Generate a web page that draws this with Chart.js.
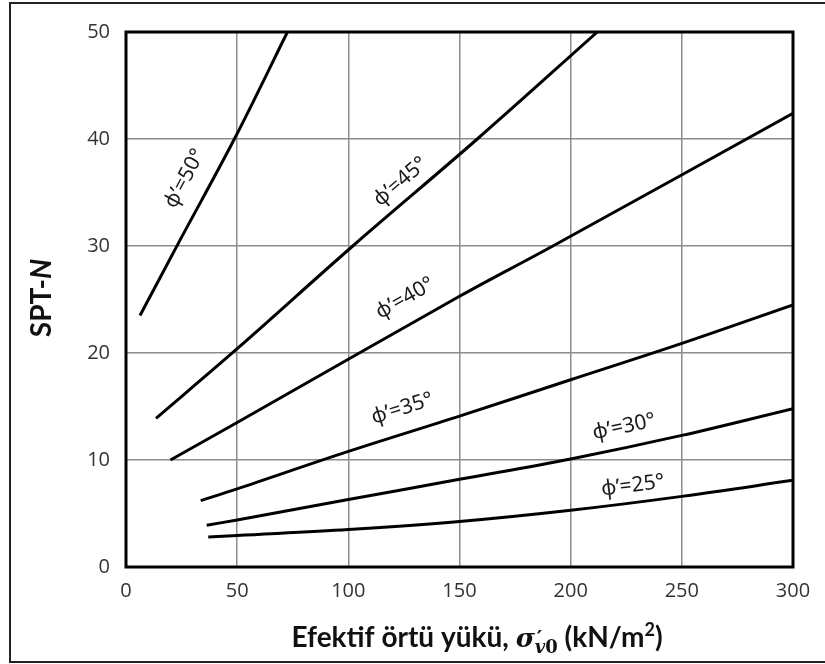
<!DOCTYPE html>
<html><head><meta charset="utf-8">
<script src="https://cdn.jsdelivr.net/npm/chart.js@4/dist/chart.umd.min.js"></script>
<style>html,body{margin:0;padding:0;background:#fff}#wrap{width:825px;height:664px;position:relative}</style>
</head><body><div id="wrap"><canvas id="c" width="825" height="664"></canvas></div>
<script>
// ---- data ----
const seriesNames = ["φ’=50°", "φ’=45°", "φ’=40°", "φ’=35°", "φ’=30°", "φ’=25°"];
const phi50X = [6.3, 23.4, 49.5, 72.6];
const phi50Y = [23.5, 30.2, 40.3, 50];
const phi45X = [13.5, 50, 102, 158, 212];
const phi45Y = [13.9, 20.4, 30, 40, 50];
const phi40X = [20, 50, 150, 192, 300];
const phi40Y = [10, 13.5, 25.3, 30, 42.4];
const phi35X = [33.6, 50, 100, 150, 200, 250, 300];
const phi35Y = [6.2, 7.3, 10.8, 14.1, 17.5, 20.9, 24.5];
const phi30X = [36.3, 50, 100, 150, 200, 250, 300];
const phi30Y = [3.9, 4.4, 6.3, 8.2, 10.1, 12.3, 14.8];
const phi25X = [37, 50, 100, 150, 200, 250, 300];
const phi25Y = [2.8, 2.95, 3.5, 4.25, 5.3, 6.6, 8.1];
const xTickValues = [0, 50, 100, 150, 200, 250, 300];
const yTickValues = [0, 10, 20, 30, 40, 50];
const labelAnchorX = [26.5, 123.5, 125.5, 124.3, 224, 228];
const labelAnchorY = [36.3, 36.0, 25.1, 14.8, 13.1, 7.6];

const allX = [phi50X, phi45X, phi40X, phi35X, phi30X, phi25X];
const allY = [phi50Y, phi45Y, phi40Y, phi35Y, phi30Y, phi25Y];

const datasets = seriesNames.map((n, i) => ({
  label: n,
  data: allX[i].map((x, k) => ({ x: x, y: allY[i][k] })),
  showLine: true,
  borderColor: '#000',
  borderWidth: 3,
  pointRadius: 0,
  fill: false,
  tension: 0.35
}));

const bgPlugin = {
  id: 'bg',
  beforeDraw(chart) {
    const ctx = chart.ctx;
    ctx.save(); ctx.fillStyle = '#fff'; ctx.fillRect(0, 0, chart.width, chart.height); ctx.restore();
  }
};

function drawRuns(ctx, runs, cx, baseline) {
  let total = 0;
  runs.forEach(r => { ctx.font = r.font; r.w = r.noAdvance ? 0 : ctx.measureText(r.t).width; total += r.w; });
  let x = cx - total / 2;
  runs.forEach(r => { ctx.font = r.font; ctx.fillText(r.t, x + (r.dx || 0), baseline + (r.dy || 0)); x += r.w; });
}

const decoPlugin = {
  id: 'deco',
  afterDatasetsDraw(chart) {
    const ctx = chart.ctx, a = chart.chartArea;
    const xs = chart.scales.x, ys = chart.scales.y;
    ctx.save();
    // plot frame
    ctx.strokeStyle = '#000'; ctx.lineWidth = 3;
    ctx.strokeRect(a.left, a.top, a.right - a.left, a.bottom - a.top);
    // curve labels
    ctx.fillStyle = '#1a1a1a';
    ctx.font = '21px "Noto Sans"';
    ctx.textAlign = 'center'; ctx.textBaseline = 'middle';
    seriesNames.forEach((n, i) => {
      const X = allX[i], Y = allY[i];
      let k = 0;
      while (k < X.length - 2 && X[k + 1] < labelAnchorX[i]) k++;
      const ang = Math.atan2(ys.getPixelForValue(Y[k + 1]) - ys.getPixelForValue(Y[k]),
                             xs.getPixelForValue(X[k + 1]) - xs.getPixelForValue(X[k]));
      ctx.save();
      ctx.translate(xs.getPixelForValue(labelAnchorX[i]), ys.getPixelForValue(labelAnchorY[i]));
      ctx.rotate(ang);
      ctx.fillText(n, 0, 0);
      ctx.restore();
    });
    // outer frame
    ctx.strokeStyle = '#222'; ctx.lineWidth = 2;
    ctx.beginPath();
    ctx.moveTo(825, 3); ctx.lineTo(10, 3); ctx.lineTo(10, 662); ctx.lineTo(825, 662);
    ctx.stroke();
    // axis titles
    ctx.fillStyle = '#111';
    ctx.textAlign = 'left'; ctx.textBaseline = 'alphabetic';
    const B = 'bold 28px Lato';
    drawRuns(ctx, [
      { t: 'Efektif örtü yükü, ', font: B },
      { t: 'σ', font: 'bold italic 26px "DejaVu Serif"' },
      { t: '′', font: 'bold 21px "DejaVu Serif"', noAdvance: true, dx: 2, dy: -2 },
      { t: 'v', font: 'bold italic 18px "DejaVu Serif"', dy: 6 },
      { t: '0', font: 'bold 18px "DejaVu Serif"', dy: 6 },
      { t: ' (kN/m', font: B },
      { t: '2', font: 'bold 18px Lato', dy: -11 },
      { t: ')', font: B }
    ], 477, 647);
    ctx.save();
    ctx.translate(51, 298);
    ctx.rotate(-Math.PI / 2);
    drawRuns(ctx, [
      { t: 'SPT-', font: 'bold 28px Lato' },
      { t: 'N', font: 'bold italic 28px Lato' }
    ], 0, 0);
    ctx.restore();
    ctx.restore();
  }
};

new Chart(document.getElementById('c'), {
  type: 'scatter',
  data: { datasets: datasets },
  options: {
    responsive: false,
    animation: false,
    devicePixelRatio: 1,
    layout: { padding: { top: 32, right: 32, left: 0, bottom: 0 } },
    plugins: { legend: { display: false }, tooltip: { enabled: false } },
    scales: {
      x: {
        type: 'linear', min: 0, max: 300,
        afterBuildTicks: s => { s.ticks = xTickValues.map(v => ({ value: v })); },
        afterFit: s => { s.height = 97; },
        grid: { color: '#8c8c8c', lineWidth: 1.5, drawTicks: false },
        border: { display: false },
        ticks: { color: '#333', font: { family: '"Open Sans"', size: 20 }, padding: 12, maxRotation: 0 }
      },
      y: {
        type: 'linear', min: 0, max: 50,
        afterBuildTicks: s => { s.ticks = yTickValues.map(v => ({ value: v })); },
        afterFit: s => { s.width = 126; },
        grid: { color: '#8c8c8c', lineWidth: 1.5, drawTicks: false },
        border: { display: false },
        ticks: { color: '#333', font: { family: '"Open Sans"', size: 20 }, padding: 16 }
      }
    }
  },
  plugins: [bgPlugin, decoPlugin]
});
</script></body></html>
